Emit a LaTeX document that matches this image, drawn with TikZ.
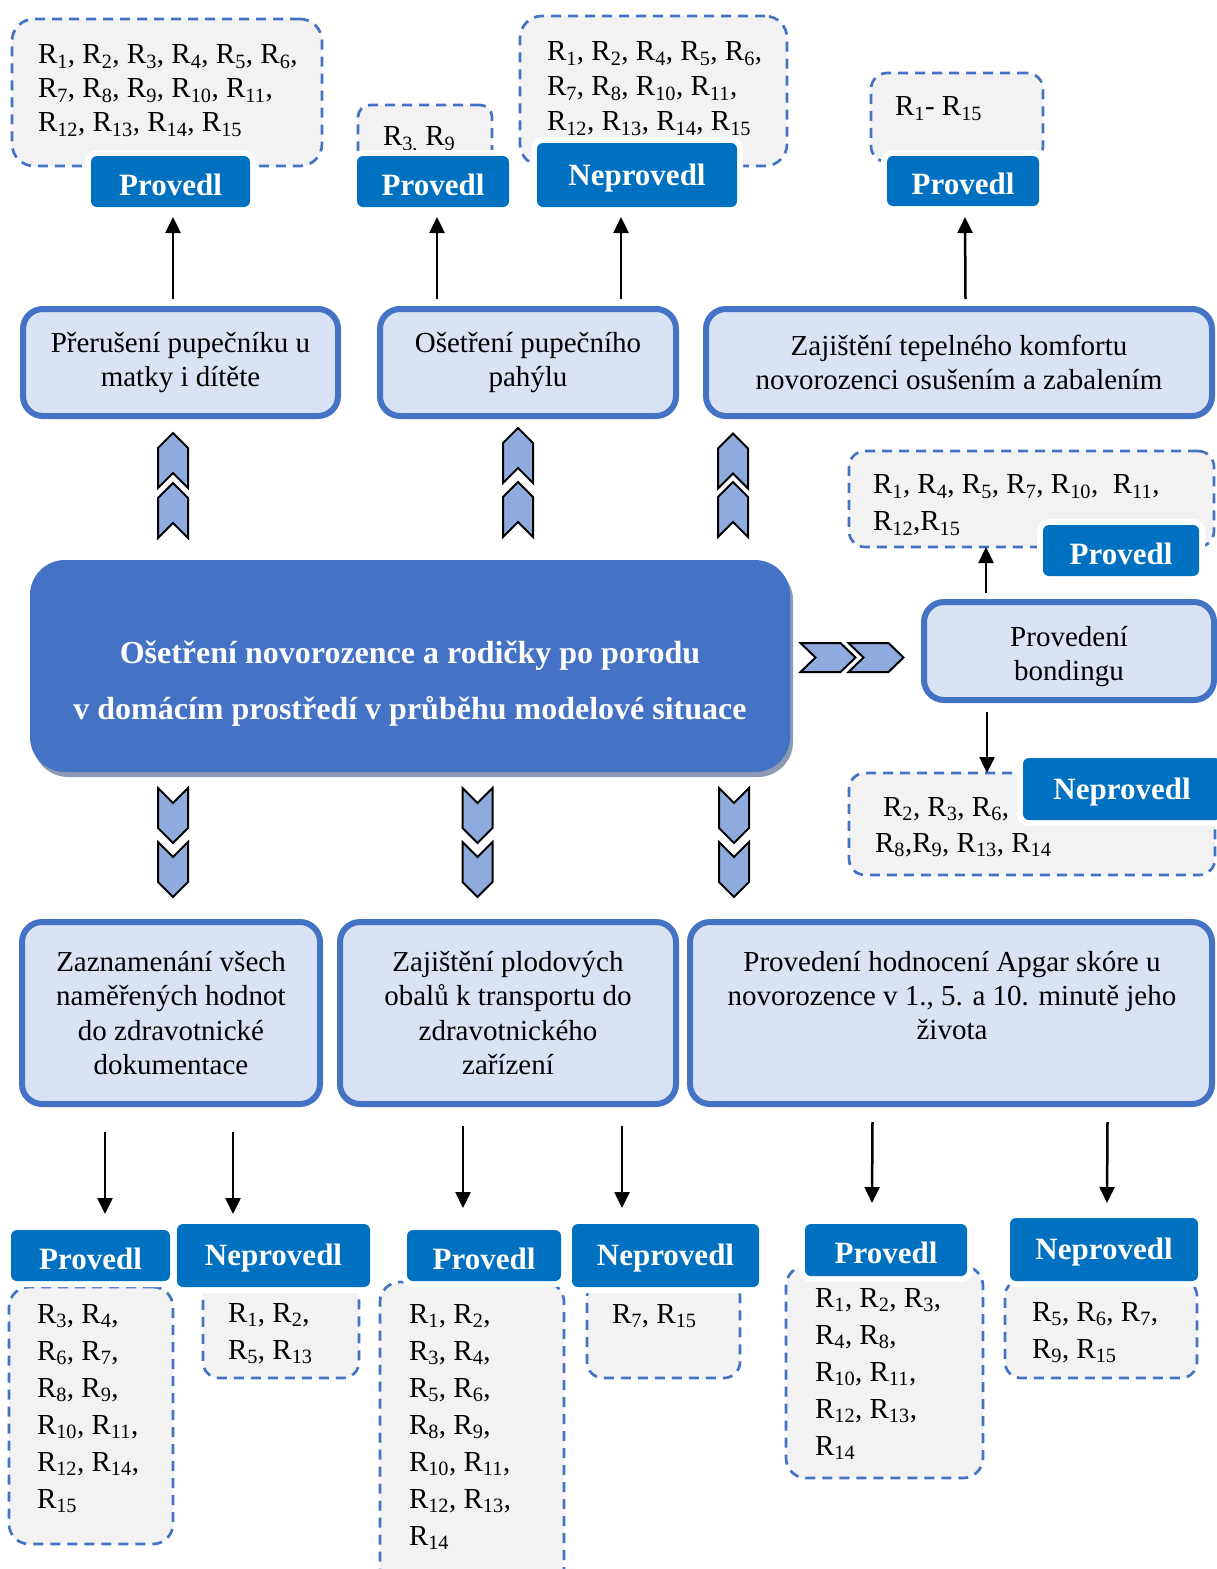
\documentclass[tikz,border=0pt]{standalone}
\usepackage{fontspec}
\setmainfont{Liberation Serif}
\usetikzlibrary{arrows.meta,calc,fit,shadows}

\definecolor{dashblue}{HTML}{4472C4}
\definecolor{dashfill}{HTML}{F2F2F2}
\definecolor{labblue}{HTML}{0070C0}
\definecolor{taskfill}{HTML}{DAE3F3}
\definecolor{chevfill}{HTML}{8FAADC}
\definecolor{shadowgray}{HTML}{8C9BB3}

\newcommand\Rx[1]{R\textsubscript{#1}}

\begin{document}
\begin{tikzpicture}[
  x=1pt, y=-1pt,
  every node/.style={outer sep=0pt},
  dbox/.style={draw=dashblue, line width=2.7pt, dash pattern=on 10pt off 7pt,
    fill=dashfill, rounded corners=22pt, inner sep=0pt},
  rtext/.style={anchor=north west, inner sep=0pt, align=left,
    font=\fontsize{29}{37}\selectfont},
  lab/.style={fill=labblue, rounded corners=6pt, inner sep=0pt, text=white,
    preaction={draw=white, line width=12pt},
    font=\bfseries\fontsize{31}{31}\selectfont, text depth=0pt},
  prov/.style={lab, text height=27pt},
  neprov/.style={lab, text height=20pt},
  task/.style={draw=dashblue, line width=6pt, fill=taskfill, rounded corners=20pt,
    inner sep=0pt, align=center, font=\fontsize{29}{34.5}\selectfont},
  tasktext/.style={anchor=north, inner sep=0pt, align=center,
    font=\fontsize{29}{34}\selectfont},
  hub/.style={fill=dashblue, rounded corners=35pt, inner sep=0pt,
    drop shadow={shadow xshift=3pt, shadow yshift=-5pt, fill=shadowgray, opacity=1}},
  hubtext/.style={anchor=base, inner sep=0pt, text=white,
    font=\bfseries\fontsize{32}{32}\selectfont},
  arr/.style={line width=2.5pt, -{Triangle[width=15pt,length=16pt]}},
  chev/.style={draw=black, line width=2pt, fill=chevfill, line join=miter},
  chevup/.pic={\path[chev] (0,-27.5) -- (15,-12.5) -- (15,27.5) -- (0,12.5)
    -- (-15,27.5) -- (-15,-12.5) -- cycle;},
  chevdown/.pic={\path[chev] (0,27.5) -- (15,12.5) -- (15,-27.5) -- (0,-12.5)
    -- (-15,-27.5) -- (-15,12.5) -- cycle;},
  chevright/.pic={\path[chev] (27.5,0) -- (12.5,14.5) -- (-27.5,14.5) -- (-12.5,0)
    -- (-27.5,-14.5) -- (12.5,-14.5) -- cycle;},
]
\useasboundingbox (0,0) rectangle (1217,1569);

% ---------- central node ----------
\node[hub, fit={(30,560) (790,772)}] (hub) {};
\node[hubtext] (hub1) at (410,663) {Ošetření novorozence a rodičky po porodu};
\node[hubtext] (hub2) at (410,719) {v domácím prostředí v průběhu modelové situace};

% ---------- chevrons ----------
\pic at (173,460.5) {chevup};   \pic at (173,510.5) {chevup};
\pic at (518,455.5) {chevup};   \pic at (518,509.5) {chevup};
\pic at (733,461)   {chevup};   \pic at (733,509.5) {chevup};
\pic at (173,815.5) {chevdown}; \pic at (173,869.5) {chevdown};
\pic at (477.5,815.5) {chevdown}; \pic at (477.5,869.5) {chevdown};
\pic at (734,815.5) {chevdown}; \pic at (734,869.5) {chevdown};
\pic at (828,657.5) {chevright}; \pic at (876,657.5) {chevright};

% ---------- activity boxes ----------
\node[task, minimum width=315, minimum height=107] (A) at (180.5,362.5)
  {Přerušení pupečníku u\\matky i dítěte};
\node[task, minimum width=296, minimum height=107] (B) at (528,362.5)
  {Ošetření pupečního\\pahýlu};
\node[task, minimum width=506, minimum height=107] (C) at (959,362.5)
  {Zajištění tepelného komfortu\\novorozenci osušením a zabalením};
\node[task, fit={(924,602) (1214,700)}] (bond) {};
\node[tasktext] (bondt) at (1069,626) {Provedení\\bondingu};
\node[task, minimum width=298, minimum height=182] (D) at (171,1013)
  {Zaznamenání všech\\naměřených hodnot\\do zdravotnické\\dokumentace};
\node[task, minimum width=336, minimum height=182] (E) at (508,1013)
  {Zajištění plodových\\obalů k transportu do\\zdravotnického\\zařízení};
\node[task, fit={(690,922) (1212,1104)}] (F) {};
\node[tasktext] (Ft) at (952,951) {Provedení hodnocení Apgar skóre u\\novorozence v 1., 5. a 10. minutě jeho\\života};

% ---------- result lists ----------
\node[dbox, fit={(12,19) (322,166)}] (top1) {};
\node[dbox, rounded corners=12pt, fit={(358,105) (492,180)}] (top2) {};
\node[dbox, fit={(520,16) (787,166)}] (top3) {};
\node[dbox, rounded corners=16pt, fit={(871,73) (1043,162)}] (top4) {};
\node[dbox, rounded corners=16pt, fit={(849,451) (1214,547)}] (bprovbox) {};
\node[dbox, rounded corners=16pt, fit={(849,773) (1215,875)}] (bnepbox) {};
\node[dbox, rounded corners=20pt, fit={(9,1287) (173,1544)}] (dprovbox) {};
\node[dbox, rounded corners=16pt, fit={(203,1280) (359,1378)}] (dnepbox) {};
\node[dbox, rounded corners=20pt, fit={(380,1282) (564,1600)}] (eprovbox) {};
\node[dbox, rounded corners=16pt, fit={(587,1280) (740,1378)}] (enepbox) {};
\node[dbox, rounded corners=20pt, fit={(786,1266) (983,1478)}] (fprovbox) {};
\node[dbox, rounded corners=16pt, fit={(1005,1280) (1197,1378)}] (fnepbox) {};

\node[rtext, font=\fontsize{29}{34}\selectfont] (t1) at (38,45)
  {\Rx{1}, \Rx{2}, \Rx{3}, \Rx{4}, \Rx{5}, \Rx{6},\\
   \Rx{7}, \Rx{8}, \Rx{9}, \Rx{10}, \Rx{11},\\
   \Rx{12}, \Rx{13}, \Rx{14}, \Rx{15}};
\node[rtext] (t2) at (383,127) {R\textsubscript{3,} \Rx{9}};
\node[rtext, font=\fontsize{29}{35}\selectfont] (t3) at (547,42)
  {\Rx{1}, \Rx{2}, \Rx{4}, \Rx{5}, \Rx{6},\\
   \Rx{7}, \Rx{8}, \Rx{10}, \Rx{11},\\
   \Rx{12}, \Rx{13}, \Rx{14}, \Rx{15}};
\node[rtext] (t4) at (895,97) {\Rx{1}- \Rx{15}};
\node[rtext] (tb1) at (873,475)
  {\Rx{1}, \Rx{4}, \Rx{5}, \Rx{7}, \Rx{10},~ \Rx{11},\\ \Rx{12},\Rx{15}};
\node[rtext, font=\fontsize{29}{36}\selectfont] (tb2) at (875,797)
  {\hspace*{8pt}\Rx{2}, \Rx{3}, \Rx{6},\\ \Rx{8},\Rx{9}, \Rx{13}, \Rx{14}};
\node[rtext] (td1) at (37,1304)
  {\Rx{3}, \Rx{4},\\ \Rx{6}, \Rx{7},\\ \Rx{8}, \Rx{9},\\ \Rx{10}, \Rx{11},\\ \Rx{12}, \Rx{14},\\ \Rx{15}};
\node[rtext] (td2) at (228,1303) {\Rx{1}, \Rx{2},\\ \Rx{5}, \Rx{13}};
\node[rtext] (te1) at (409,1304)
  {\Rx{1}, \Rx{2},\\ \Rx{3}, \Rx{4},\\ \Rx{5}, \Rx{6},\\ \Rx{8}, \Rx{9},\\ \Rx{10}, \Rx{11},\\ \Rx{12}, \Rx{13},\\ \Rx{14}};
\node[rtext] (te2) at (612,1304) {\Rx{7}, \Rx{15}};
\node[rtext] (tf1) at (815,1288)
  {\Rx{1}, \Rx{2}, \Rx{3},\\ \Rx{4}, \Rx{8},\\ \Rx{10}, \Rx{11},\\ \Rx{12}, \Rx{13},\\ \Rx{14}};
\node[rtext] (tf2) at (1032,1302) {\Rx{5}, \Rx{6}, \Rx{7},\\ \Rx{9}, \Rx{15}};

% ---------- outcome labels ----------
\node[prov, minimum width=159, minimum height=51] (p1) at (170.5,181.5) {Provedl};
\node[prov, minimum width=152, minimum height=51] (p2) at (433,181.5) {Provedl};
\node[neprov, minimum width=200, minimum height=64] (p3) at (637,175) {Neprovedl};
\node[prov, minimum width=152, minimum height=50] (p4) at (963,181) {Provedl};
\node[prov, minimum width=156, minimum height=51] (pb1) at (1121,550.5) {Provedl};
\node[neprov, minimum width=198, minimum height=62] (pb2) at (1122,789) {Neprovedl};
\node[prov, minimum width=159, minimum height=51] (dp) at (90.5,1255.5) {Provedl};
\node[neprov, minimum width=193, minimum height=63] (dn) at (273.5,1255.5) {Neprovedl};
\node[prov, minimum width=154, minimum height=51] (ep) at (484,1255.5) {Provedl};
\node[neprov, minimum width=187, minimum height=63] (en) at (665.5,1255.5) {Neprovedl};
\node[prov, minimum width=162, minimum height=52] (fp) at (886,1250) {Provedl};
\node[neprov, minimum width=188, minimum height=63] (fn) at (1104,1249.5) {Neprovedl};

% ---------- connectors ----------
\draw[arr] ($(A.north)+(-7.5,-10)$) -- ($(p1.south)+(2.5,10)$);
\draw[arr] ($(B.north)+(-91,-10)$) -- ($(p2.south)+(4,10)$);
\draw[arr] ($(B.north)+(93,-10)$) -- ($(p3.south)+(-16,10)$);
\draw[arr] ($(C.north)+(6.5,-10)$) -- ($(p4.south)+(2,11)$);
\draw[arr] ($(bond.north)+(-83,-9)$) -- ($(bprovbox.south)+(-45.5,0)$);
\draw[arr] ($(bond.south)+(-82,12)$) -- ($(bnepbox.north)+(-45,0)$);
\draw[arr] ($(D.south)+(-66,28)$) -- ($(dp.north)+(14.5,-16)$);
\draw[arr] ($(D.south)+(62,28)$) -- ($(dn.north)+(-40.5,-10)$);
\draw[arr] ($(E.south)+(-45,22)$) -- ($(ep.north)+(-21,-22)$);
\draw[arr] ($(E.south)+(114,22)$) -- ($(en.north)+(-43.5,-16)$);
\draw[arr] ($(F.south)+(-78.5,18)$) -- ($(fp.north)+(-14,-21)$);
\draw[arr] ($(F.south)+(156.5,18)$) -- ($(fn.north)+(3,-15)$);
\end{tikzpicture}
\end{document}
